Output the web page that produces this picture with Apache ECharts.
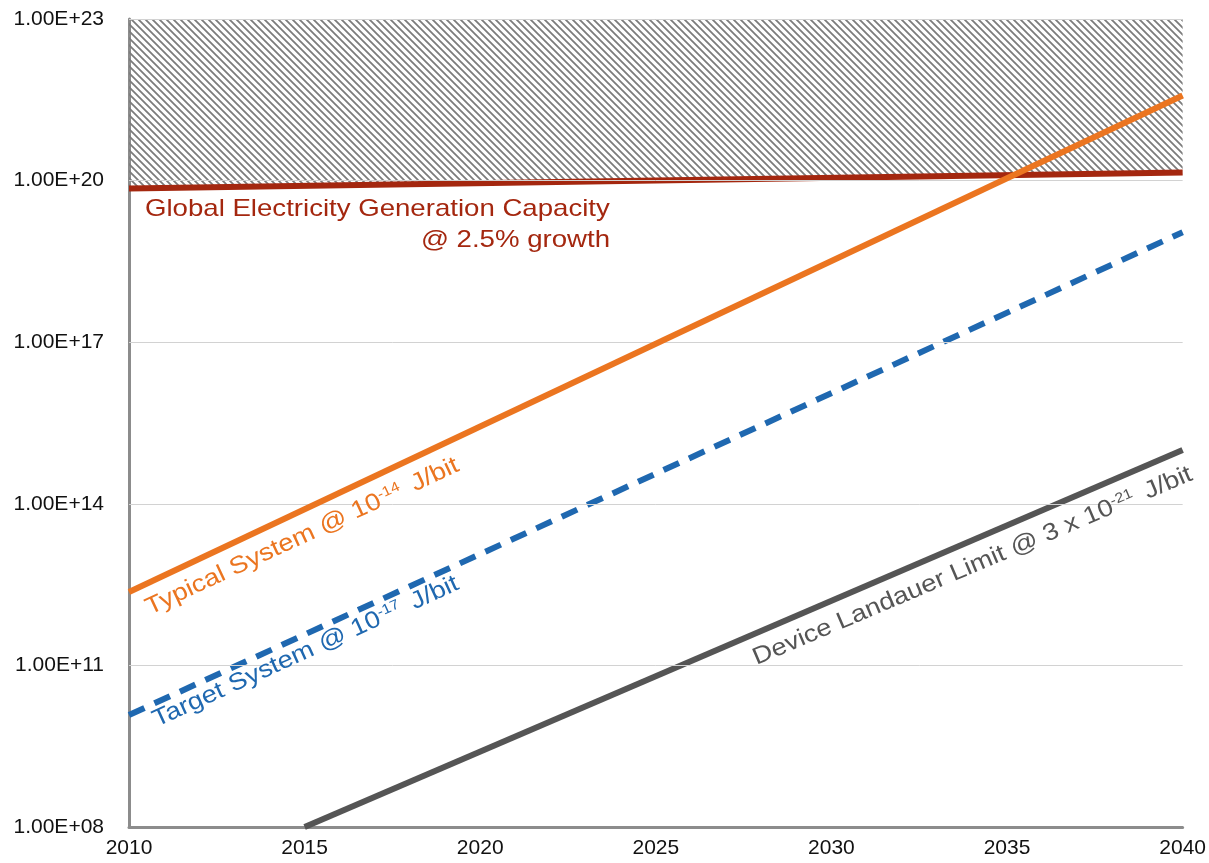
<!DOCTYPE html>
<html>
<head>
<meta charset="utf-8">
<script src="https://cdn.jsdelivr.net/npm/echarts@6.0.0/dist/echarts.min.js"></script>
<style>
  html, body { margin: 0; background: #fff; }
  #chart { width: 1209px; height: 863px; }
</style>
</head>
<body>
<div id="chart"></div>
<script>
// values (start / end of each straight log-line)
const years = [2010, 2040];
const electricity = [7.1e19, 1.42e20];
const typical = [2.3e12, 3.8e21];
const target = [1.2e10, 1.1e19];
const landauerYears = [2015, 2040];
const landauer = [1e8, 1e15];
const yTicks = [1e8, 1e11, 1e14, 1e17, 1e20, 1e23];

const FONT = '"Liberation Sans", Arial, Helvetica, sans-serif';
const RED = '#a4270f';
const ORANGE = '#eb7520';
const BLUE = '#1f68b0';
const GREY = '#555555';

const pairs = (xs, ys) => xs.map((x, i) => [x, ys[i]]);

// diagonal hatch tile for the "over capacity" area
function hatchTile() {
  const s = 7;
  const c = document.createElement('canvas');
  c.width = s; c.height = s;
  const g = c.getContext('2d');
  g.strokeStyle = '#7c7c7c';
  g.lineWidth = 1.8;
  g.beginPath();
  g.moveTo(-1, -1); g.lineTo(s + 1, s + 1);
  g.moveTo(-1, s - 1); g.lineTo(1, s + 1);
  g.moveTo(s - 1, -1); g.lineTo(s + 1, 1);
  g.stroke();
  return c;
}

function tickLabel(v) {
  const e = Math.round(Math.log10(v));
  return '1.00E+' + String(e).padStart(2, '0');
}

// rotated line labels with a superscript exponent
function lineLabel(x, y, deg, parts, color) {
  return {
    type: 'text',
    x: x, y: y,
    rotation: deg * Math.PI / 180,
    scaleX: 1.14,
    silent: true,
    z: 10,
    style: {
      text: '{m|' + parts[0] + '}{s|' + parts[1] + ' }{m|' + parts[2] + '}',
      align: 'left',
      verticalAlign: 'middle',
      rich: {
        m: { fontSize: 24, fontFamily: FONT, fill: color },
        s: { fontSize: 14, fontFamily: FONT, fill: color, verticalAlign: 'top' }
      }
    }
  };
}

const chart = echarts.init(document.getElementById('chart'));

const option = {
  animation: false,
  grid: { left: 129, right: 26, top: 19, bottom: 36 },
  xAxis: {
    type: 'value',
    min: 2010,
    max: 2040,
    interval: 5,
    axisLine: { show: true, lineStyle: { color: '#8c8c8c', width: 3 } },
    axisTick: { show: false },
    splitLine: { show: false },
    axisLabel: { color: '#111', fontSize: 21, fontFamily: FONT, margin: 11, formatter: v => String(v) }
  },
  yAxis: {
    type: 'log',
    logBase: 10,
    min: 1e8,
    max: 1e23,
    axisLine: { show: true, onZero: false, lineStyle: { color: '#8c8c8c', width: 3 } },
    axisTick: { show: false },
    axisLabel: { show: false },
    splitLine: { show: false }
  },
  graphic: [
    {
      type: 'text', x: 145, y: 209, scaleX: 1.15, silent: true, z: 10,
      style: { text: 'Global Electricity Generation Capacity', fontSize: 24, fontFamily: FONT, fill: RED, align: 'left', verticalAlign: 'middle' }
    },
    {
      type: 'text', x: 610, y: 240, scaleX: 1.15, silent: true, z: 10,
      style: { text: '@ 2.5% growth', fontSize: 24, fontFamily: FONT, fill: RED, align: 'right', verticalAlign: 'middle' }
    },
    lineLabel(147, 609, 25, ['Typical System @ 10', '-14', ' J/bit'], ORANGE),
    lineLabel(154, 721, 24.5, ['Target System @ 10', '-17', ' J/bit'], BLUE),
    lineLabel(754, 659, 23, ['Device Landauer Limit @ 3 x 10', '-21', ' J/bit'], GREY)
  ],
  series: [
    {
      // gridlines and y tick labels, placed on the log scale
      name: 'grid',
      type: 'line',
      data: [],
      z: 1,
      markLine: {
        silent: true,
        symbol: 'none',
        animation: false,
        lineStyle: { type: 'solid', color: '#d2d2d2', width: 1 },
        label: {
          show: true,
          position: 'start',
          distance: 25,
          color: '#111',
          fontSize: 21,
          fontFamily: FONT,
          formatter: p => tickLabel(p.value)
        },
        emphasis: { disabled: true },
        data: yTicks.map((v, i) => i === 0
          ? { yAxis: v, lineStyle: { color: 'rgba(0,0,0,0)' } }
          : { yAxis: v })
      }
    },
    {
      name: 'Global Electricity Generation Capacity',
      type: 'line',
      data: pairs(years, electricity),
      showSymbol: false,
      z: 3,
      lineStyle: { color: RED, width: 6 },
      areaStyle: { origin: 'end', opacity: 1, color: { image: hatchTile(), repeat: 'repeat' } }
    },
    {
      name: 'Typical System',
      type: 'line',
      data: pairs(years, typical),
      showSymbol: false,
      z: 5,
      lineStyle: { color: ORANGE, width: 6 }
    },
    {
      name: 'Target System',
      type: 'line',
      data: pairs(years, target),
      showSymbol: false,
      z: 4,
      lineStyle: { color: BLUE, width: 6, type: [17, 11] }
    },
    {
      name: 'Device Landauer Limit',
      type: 'line',
      data: pairs(landauerYears, landauer),
      showSymbol: false,
      z: 4,
      lineStyle: { color: GREY, width: 6 }
    }
  ]
};

option && chart.setOption(option);
</script>
</body>
</html>
